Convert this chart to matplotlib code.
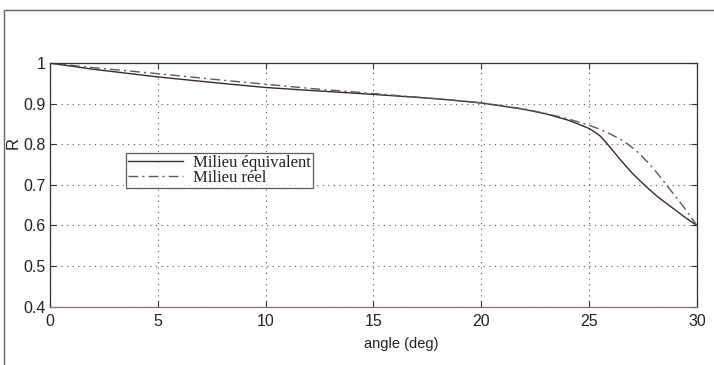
import matplotlib
matplotlib.use("Agg")
import matplotlib.pyplot as plt
from matplotlib.lines import Line2D

# values
angle = [0, 2, 5, 8, 10, 12, 15, 18, 20, 22, 23, 24, 24.5, 25, 25.25, 25.5,
         25.75, 26, 26.25, 26.5, 26.75, 27, 27.25, 27.5, 27.75, 28, 28.25,
         28.5, 28.75, 29, 29.25, 29.5, 29.75, 30]
r_equiv = [1.0, 0.985, 0.966, 0.950, 0.940, 0.933, 0.923, 0.912, 0.902,
           0.886, 0.875, 0.860, 0.850, 0.839, 0.831, 0.821, 0.807, 0.791,
           0.775, 0.759, 0.744, 0.729, 0.716, 0.703, 0.691, 0.679, 0.668,
           0.658, 0.648, 0.638, 0.628, 0.618, 0.609, 0.600]
r_reel = [1.0, 0.989, 0.974, 0.958, 0.948, 0.938, 0.925, 0.912, 0.902,
          0.887, 0.876, 0.863, 0.855, 0.847, 0.842, 0.837, 0.831, 0.825,
          0.818, 0.811, 0.802, 0.792, 0.781, 0.768, 0.754, 0.739, 0.723,
          0.706, 0.689, 0.672, 0.655, 0.638, 0.619, 0.600]

xticks = [0, 5, 10, 15, 20, 25, 30]
yticks = [0.4, 0.5, 0.6, 0.7, 0.8, 0.9, 1]
ytick_labels = ['0.4', '0.5', '0.6', '0.7', '0.8', '0.9', '1']

fig = plt.figure(figsize=(7.14, 3.65), dpi=100)
ax = fig.add_axes([0.070, 0.160, 0.906, 0.667])

ax.plot(angle, r_equiv, '-', color='#3d2822', lw=1.0, label='Milieu équivalent')
ax.plot(angle, r_reel, color='#5a5a5a', lw=1.0, dashes=(7, 3, 1.5, 3),
        label='Milieu réel')

ax.set_xlim(0, 30)
ax.set_ylim(0.4, 1)
ax.set_xticks(xticks)
ax.set_yticks(yticks)
ax.set_yticklabels(ytick_labels)
ax.tick_params(direction='in', length=4, top=True, right=True,
               labelsize=11.5, pad=3, colors='#333333')
ax.tick_params(axis='x', pad=5)
for lab in ax.get_xticklabels() + ax.get_yticklabels():
    lab.set_family('Liberation Sans')
    lab.set_color('#222222')

ax.grid(True, color='#555555', linestyle=(0, (1, 4)), linewidth=0.8)

for s in ax.spines.values():
    s.set_color('#333333')
    s.set_linewidth(0.9)
ax.spines['bottom'].set_color('#b8604a')

ax.set_xlabel('angle (deg)', family='Liberation Sans', fontsize=10.5, color='#222222')
ax.set_ylabel('R', family='Liberation Sans', fontsize=12, color='#222222')
ax.xaxis.set_label_coords(0.543, -0.125)
ax.yaxis.set_label_coords(-0.045, 0.67)

leg = ax.legend(loc='upper left', bbox_to_anchor=(0.117, 0.632),
                prop={'family': 'Liberation Serif', 'size': 12},
                frameon=True, fancybox=False, handlelength=3.3,
                borderpad=0.12, labelspacing=-0.05, handletextpad=0.6,
                borderaxespad=0)
leg.get_frame().set_edgecolor('#333333')
leg.get_frame().set_linewidth(0.9)
for t in leg.get_texts():
    t.set_color('#222222')

# outer frame of the scanned figure (top and left edges)
fig.add_artist(Line2D([4 / 714, 4 / 714, 1], [0, 1 - 10 / 365, 1 - 10 / 365],
                      transform=fig.transFigure, color='#666666', lw=1.0))

fig.savefig('out.png', dpi=100)
